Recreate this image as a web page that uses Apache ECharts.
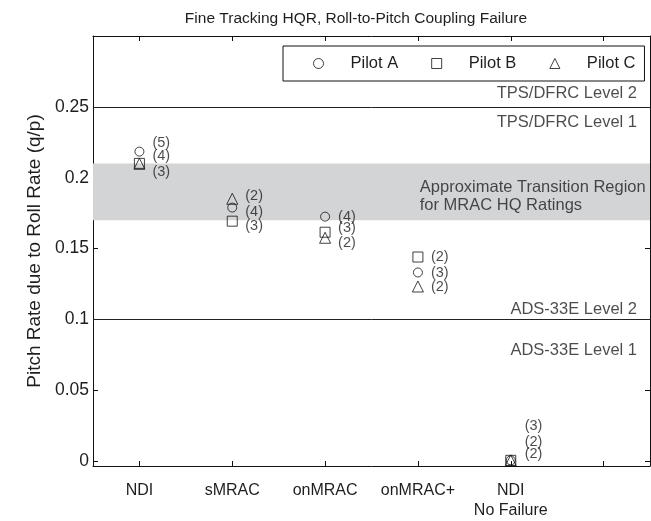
<!DOCTYPE html>
<html>
<head>
<meta charset="utf-8">
<script src="https://cdn.jsdelivr.net/npm/echarts@6/dist/echarts.min.js"></script>
<style>html,body{margin:0;padding:0;background:#fff}#c{width:651px;height:521px}</style>
</head>
<body>
<div id="c"></div>
<script>
// ---- data ----
const categories = ['NDI', 'sMRAC', 'onMRAC', 'onMRAC+', 'NDI\nNo Failure'];
const catPos = [1, 2, 3, 4, 5];
const pilotA = [0.2184, 0.1789, 0.1725, 0.1331, 0.0005];
const pilotB = [0.2101, 0.1693, 0.1615, 0.1440, 0.0005];
const pilotC = [0.2098, 0.1851, 0.1576, 0.1232, 0.0005];
const countsA = [5, 4, 4, 3, 3];
const countsB = [4, 3, 3, 2, 2];
const countsC = [3, 2, 2, 2, 2];
const countLabelYA = [0.2248, 0.1760, 0.1725, 0.1330, 0.0247];
const countLabelYB = [0.2152, 0.1657, 0.1645, 0.1440, 0.0133];
const countLabelYC = [0.2042, 0.1870, 0.1538, 0.1230, 0.0048];
const yTicks = [0, 0.05, 0.1, 0.15, 0.2, 0.25];
const xTicks = [1, 2, 3, 4, 5, 6];
const transitionBand = [0.17, 0.21];
const tpsLevelLine = 0.25;
const adsLevelLine = 0.095;
const levelTexts = [
  [6.36, 0.2595, 'TPS/DFRC Level 2'],
  [6.36, 0.2390, 'TPS/DFRC Level 1'],
  [6.36, 0.1072, 'ADS-33E Level 2'],
  [6.36, 0.0782, 'ADS-33E Level 1']
];
const bandText = [4.02, 0.1868, 'Approximate Transition Region\nfor MRAC HQ Ratings'];
const seriesNames = ['Pilot A', 'Pilot B', 'Pilot C'];

// ---- chart ----
const FONT = 'Liberation Sans, Arial, sans-serif';
const TXT = '#1e1e1e';
const labelDx = 0.14;

function pts(vals) { return vals.map((v, i) => [catPos[i], v]); }
function countPts(ys, counts) { return ys.map((y, i) => [catPos[i] + labelDx + (i === 4 ? 0.01 : 0), y, '(' + counts[i] + ')']); }

const markerStyle = { color: 'rgba(255,255,255,0)', borderColor: '#111', borderWidth: 1 };

const chart = echarts.init(document.getElementById('c'), null, { renderer: 'canvas' });
chart.setOption({
  animation: false,
  backgroundColor: '#fff',
  textStyle: { fontFamily: FONT, color: TXT },
  title: {
    text: 'Fine Tracking HQR, Roll-to-Pitch Coupling Failure',
    left: 351, top: 6, textAlign: 'center',
    textStyle: { fontFamily: FONT, fontSize: 15.5, fontWeight: 'normal', color: TXT }
  },
  legend: {
    data: seriesNames,
    left: 283, top: 46,
    padding: [9, 9, 9, 30],
    itemWidth: 10, itemHeight: 10, itemGap: 33,
    borderColor: '#111', borderWidth: 1,
    textStyle: { fontFamily: FONT, fontSize: 16.5, color: TXT, lineHeight: 16, padding: [0, 0, 0, 22] },
    itemStyle: { color: 'rgba(255,255,255,0)', borderColor: '#111', borderWidth: 1 }
  },
  grid: { left: 93, top: 36, width: 557, height: 440, containLabel: false },
  xAxis: [{
    type: 'value', min: 0.5, max: 6.5, position: 'bottom',
    axisLine: { show: true, onZero: false, lineStyle: { color: '#111', width: 1 } },
    axisTick: { show: true, inside: true, length: 5, customValues: xTicks, lineStyle: { color: '#111' } },
    axisLabel: {
      show: true, customValues: catPos, margin: 15,
      formatter: v => categories[Math.round(v) - 1] || '',
      fontFamily: FONT, fontSize: 16, color: TXT, lineHeight: 20
    },
    splitLine: { show: false }
  }, {
    type: 'value', min: 0.5, max: 6.5, position: 'top',
    axisLine: { show: true, onZero: false, lineStyle: { color: '#111', width: 1 } },
    axisTick: { show: true, inside: true, length: 5, customValues: xTicks, lineStyle: { color: '#111' } },
    axisLabel: { show: false },
    splitLine: { show: false }
  }],
  yAxis: [{
    type: 'value', min: -0.0035, max: 0.3, position: 'left',
    name: 'Pitch Rate due to Roll Rate (q/p)', nameLocation: 'middle', nameGap: 47,
    nameTextStyle: { fontFamily: FONT, fontSize: 19, color: TXT },
    axisLine: { show: true, onZero: false, lineStyle: { color: '#111', width: 1 } },
    axisTick: { show: true, inside: true, length: 5, customValues: yTicks, lineStyle: { color: '#111' } },
    axisLabel: { show: true, customValues: yTicks, margin: 4, fontFamily: FONT, fontSize: 17.5, color: TXT,
      formatter: v => String(Math.round(v * 100) / 100) },
    splitLine: { show: false }
  }, {
    type: 'value', min: -0.0035, max: 0.3, position: 'right',
    axisLine: { show: true, onZero: false, lineStyle: { color: '#111', width: 1 } },
    axisTick: { show: true, inside: true, length: 5, customValues: yTicks, lineStyle: { color: '#111' } },
    axisLabel: { show: false },
    splitLine: { show: false }
  }],
  series: [
    {
      name: 'band', type: 'line', data: [], silent: true,
      markArea: {
        silent: true,
        itemStyle: { color: '#d3d4d6', opacity: 1 },
        label: { show: false },
        data: [[{ yAxis: transitionBand[0] }, { yAxis: transitionBand[1] }]]
      },
      markLine: {
        silent: true, symbol: ['none', 'none'],
        lineStyle: { color: '#222', width: 1, type: 'solid' },
        label: { show: false },
        data: [{ yAxis: tpsLevelLine }, { yAxis: adsLevelLine }]
      },
      z: 1
    },
    {
      name: 'levelText', type: 'scatter', symbolSize: 0, silent: true, z: 3,
      data: levelTexts,
      label: { show: true, position: 'left', distance: 0, formatter: p => p.value[2],
        fontFamily: FONT, fontSize: 16.5, color: TXT }
    },
    {
      name: 'bandText', type: 'scatter', symbolSize: 0, silent: true, z: 3,
      data: [bandText],
      label: { show: true, position: 'right', distance: 0, formatter: p => p.value[2],
        fontFamily: FONT, fontSize: 16.5, color: TXT, lineHeight: 18 }
    },
    {
      name: 'Pilot A', type: 'scatter', symbol: 'circle', symbolSize: 9, z: 5,
      data: pts(pilotA), itemStyle: markerStyle
    },
    {
      name: 'Pilot B', type: 'scatter', symbol: 'rect', symbolSize: 10, z: 5,
      data: pts(pilotB), itemStyle: markerStyle
    },
    {
      name: 'Pilot C', type: 'scatter', symbol: 'triangle', symbolSize: 11, z: 5,
      data: pts(pilotC), itemStyle: markerStyle
    },
    {
      name: 'counts', type: 'scatter', symbolSize: 0, silent: true, z: 6,
      data: countPts(countLabelYA, countsA).concat(countPts(countLabelYB, countsB), countPts(countLabelYC, countsC)),
      label: { show: true, position: 'right', distance: 0, formatter: p => p.value[2],
        fontFamily: FONT, fontSize: 14.5, color: TXT }
    }
  ]
});
</script>
</body>
</html>
